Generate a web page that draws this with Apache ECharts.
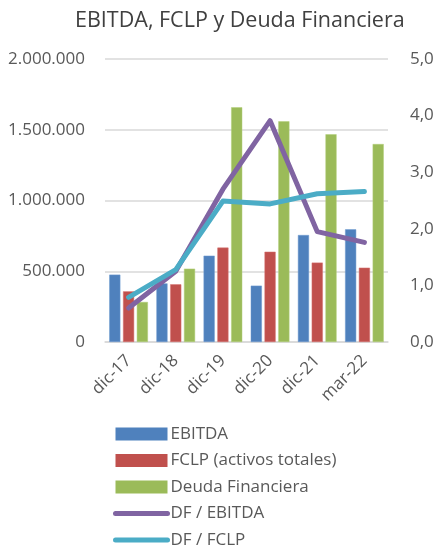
<!DOCTYPE html>
<html>
<head>
<meta charset="utf-8">
<script src="https://cdn.jsdelivr.net/npm/echarts@6/dist/echarts.min.js"></script>
<style>
html, body { margin: 0; padding: 0; background: #fff; }
#main { width: 440px; height: 550px; }
</style>
</head>
<body>
<div id="main"></div>
<script>
//categorias y valores
var categories = ['dic-17', 'dic-18', 'dic-19', 'dic-20', 'dic-21', 'mar-22'];
var ebitda = [476000, 414000, 610000, 398000, 756000, 796000];
var fclp = [358000, 408000, 667000, 638000, 561000, 525000];
var deuda = [283000, 518000, 1659000, 1560000, 1468000, 1399000];
var dfEbitda = [0.60, 1.25, 2.70, 3.91, 1.95, 1.76];
var dfFclp = [0.79, 1.28, 2.49, 2.44, 2.62, 2.66];
var seriesNames = ['EBITDA', 'FCLP (activos totales)', 'Deuda Financiera', 'DF / EBITDA', 'DF / FCLP'];

var font = 'Open Sans';
var gray = '#595959';

//formato de miles con punto
function fmtMiles(v) {
    return String(v).replace(/\B(?=(\d{3})+(?!\d))/g, '.');
}

var myChart = echarts.init(document.getElementById('main'));
var option = {
    animation: false,
    textStyle: { fontFamily: font },
    title: {
        text: 'EBITDA, FCLP y Deuda Financiera',
        left: 70,
        top: 5,
        textStyle: { fontFamily: font, fontSize: 21.5, fontWeight: 'normal', color: '#404040' }
    },
    legend: {
        orient: 'vertical',
        left: 113,
        top: 425,
        height: 130,
        padding: 0,
        itemWidth: 52,
        itemHeight: 13,
        itemGap: 8.5,
        itemStyle: { borderWidth: 0 },
        textStyle: { fontFamily: font, fontSize: 17, lineHeight: 18, color: gray, padding: [0, 0, 0, -2] },
        data: [
            { name: seriesNames[0], icon: 'rect' },
            { name: seriesNames[1], icon: 'rect' },
            { name: seriesNames[2], icon: 'rect' },
            { name: seriesNames[3], itemStyle: { opacity: 0 }, lineStyle: { width: 5, cap: 'round' } },
            { name: seriesNames[4], itemStyle: { opacity: 0 }, lineStyle: { width: 5, cap: 'round' } }
        ]
    },
    grid: {
        left: 105,
        right: 52,
        top: 59,
        bottom: 208
    },
    xAxis: [{
        type: 'category',
        data: categories,
        axisLine: { lineStyle: { color: '#d9d9d9', width: 1.5 } },
        axisTick: { show: false },
        axisLabel: { rotate: 45, fontSize: 17, color: gray, margin: 16, fontFamily: font }
    }],
    yAxis: [{
        type: 'value',
        min: 0,
        max: 2000000,
        interval: 500000,
        position: 'left',
        axisLine: { show: false },
        axisTick: { show: false },
        splitLine: { lineStyle: { color: '#d9d9d9', width: 1.5 } },
        axisLabel: { fontSize: 17, color: gray, margin: 20, fontFamily: font, formatter: fmtMiles }
    }, {
        type: 'value',
        min: 0,
        max: 5,
        interval: 1,
        position: 'right',
        axisLine: { show: false },
        axisTick: { show: false },
        splitLine: { show: false },
        axisLabel: {
            fontSize: 17, color: gray, margin: 22, fontFamily: font,
            formatter: function(v) { return v.toFixed(1).replace('.', ','); }
        }
    }],
    series: [{
        name: seriesNames[0],
        type: 'bar',
        data: ebitda,
        barGap: '24%',
        barCategoryGap: '18%',
        itemStyle: { color: '#4f81bd', borderColor: '#6e9bd1', borderWidth: 0.5 }
    }, {
        name: seriesNames[1],
        type: 'bar',
        data: fclp,
        itemStyle: { color: '#c0504d', borderColor: '#d77370', borderWidth: 0.5 }
    }, {
        name: seriesNames[2],
        type: 'bar',
        data: deuda,
        itemStyle: { color: '#9bbb59', borderColor: '#b3cf7a', borderWidth: 0.5 }
    }, {
        name: seriesNames[3],
        type: 'line',
        yAxisIndex: 1,
        data: dfEbitda,
        symbol: 'none',
        lineStyle: { color: '#8064a2', width: 5, cap: 'round', join: 'round' },
        itemStyle: { color: '#8064a2' }
    }, {
        name: seriesNames[4],
        type: 'line',
        yAxisIndex: 1,
        data: dfFclp,
        symbol: 'none',
        lineStyle: { color: '#4bacc6', width: 5, cap: 'round', join: 'round' },
        itemStyle: { color: '#4bacc6' }
    }]
};
myChart.setOption(option);
</script>
</body>
</html>
